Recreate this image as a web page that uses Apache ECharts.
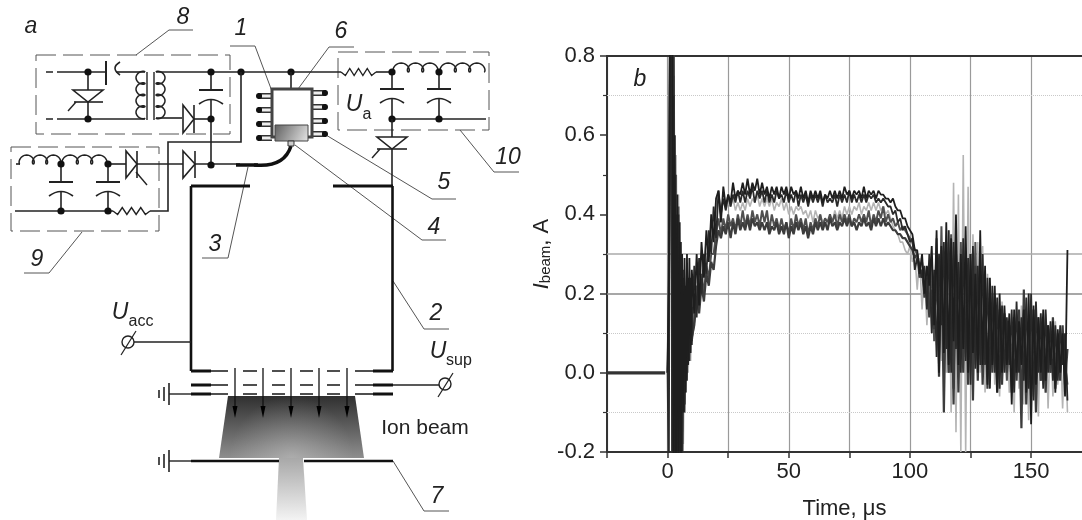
<!DOCTYPE html>
<html><head><meta charset="utf-8">
<style>html,body{margin:0;padding:0;background:#fff}#c{width:1082px;height:520px;filter:blur(.4px)}</style>
<script src="https://cdn.jsdelivr.net/npm/echarts@6/dist/echarts.min.js"></script>
</head><body><div id="c"></div>
<script>
const time=[0,.5,1,1.5,2,2.5,3,3.5,4,4.5,5,5.5,6,6.5,7,7.5,8,8.5,9,9.5,10,
11,12,13,14,15,16,17,18,19,20,
21,22,23,24,25,26,27,28,29,30,31,32,33,34,35,36,37,38,39,40,
41,42,43,44,45,46,47,48,49,50,51,52,53,54,55,56,57,58,59,60,
61,62,63,64,65,66,67,68,69,70,71,72,73,74,75,76,77,78,79,80,
81,82,83,84,85,86,87,88,89,90,
91,92,93,94,95,96,97,98,99,100,101,102,103,104,105,106,107,108,109,110,
111,112,113,114,115,116,117,118,119,120,121,122,123,124,125,126,127,128,129,130,
131,132,133,134,135,136,137,138,139,140,141,142,143,144,145,146,147,148,149,150,
151,152,153,154,155,156,157,158,159,160,161,162,163,164,165];
const shotA=[0,.24,.9,1.1,.9,-.3,.6,-.3,.45,-.25,.38,-.22,.3,-.1,.29,-.05,.3,.02,.29,.05,.26,
.15,.3,.17,.33,.24,.36,.28,.4,.33,.44,
.46,.38,.47,.42,.45,.43,.48,.44,.46,.45,.48,.45,.49,.45,.48,.46,.49,.45,.48,.45,
.47,.44,.47,.45,.47,.44,.47,.45,.47,.44,.47,.45,.46,.44,.47,.44,.46,.43,.46,.44,
.46,.44,.46,.43,.45,.44,.46,.44,.46,.44,.46,.44,.47,.45,.46,.44,.46,.45,.46,.44,
.47,.44,.46,.45,.46,.44,.46,.45,.45,.44,
.44,.43,.44,.42,.41,.41,.39,.39,.37,.36,.35,.31,.31,.25,.3,.2,.27,.22,.32,.12,
.36,0,.32,.05,.38,.02,.34,.08,.4,.02,.3,.06,.37,0,.3,.05,.25,0,.36,.02,
.27,-.03,.24,.02,.22,-.05,.2,0,.17,.02,.15,-.08,.16,0,.13,.02,.16,-.05,.2,-.13,
.17,-.03,.14,0,.16,-.02,.12,.02,.13,-.05,.11,0,.1,-.06,.31];
const shotB=[0,-.3,.85,.9,-.3,.7,-.3,.4,-.28,.4,-.3,.33,-.26,.24,-.1,.22,-.02,.24,.03,.24,.07,
.27,.14,.29,.2,.3,.25,.36,.3,.42,.34,
.46,.4,.44,.41,.45,.42,.45,.43,.46,.43,.46,.43,.46,.44,.47,.43,.46,.44,.46,.43,
.46,.43,.45,.43,.46,.44,.45,.43,.46,.43,.45,.43,.46,.42,.45,.43,.45,.42,.45,.43,
.45,.43,.45,.42,.45,.43,.44,.43,.45,.42,.45,.43,.45,.43,.46,.43,.45,.43,.45,.43,
.45,.43,.45,.44,.45,.43,.44,.43,.44,.43,
.42,.42,.4,.41,.38,.39,.36,.37,.35,.33,.34,.26,.29,.27,.24,.27,.16,.3,.1,.26,
.04,.3,.12,.33,.06,.36,0,.33,.06,.28,0,.34,.03,.29,-.03,.32,.01,.27,.02,.3,
.02,.24,-.04,.22,0,.19,-.04,.17,0,.14,.02,.16,-.05,.18,0,.14,-.02,.19,-.04,.2,
-.07,.18,0,.15,-.04,.16,0,.13,-.02,.12,-.02,.12,.02,.1,-.07];
const shotC=[0,.1,.8,1,-.2,.75,-.25,.5,-.2,.42,-.2,.3,-.15,.26,-.05,.2,0,.22,.05,.2,.08,
.13,.22,.17,.25,.2,.27,.24,.3,.3,.35,
.39,.35,.39,.36,.4,.37,.39,.36,.4,.37,.41,.37,.4,.37,.41,.38,.4,.37,.41,.38,
.41,.36,.4,.37,.39,.36,.39,.36,.38,.35,.39,.36,.4,.37,.39,.36,.39,.35,.38,.36,
.39,.37,.4,.37,.39,.38,.4,.38,.4,.37,.4,.38,.4,.38,.4,.37,.39,.38,.4,.38,
.4,.38,.41,.37,.4,.38,.41,.39,.42,.38,
.4,.38,.39,.37,.38,.36,.37,.36,.35,.34,.33,.31,.3,.27,.28,.2,.26,.15,.28,.08,
.34,.05,.37,.04,.33,0,.35,-.04,.3,.03,.33,.04,.28,.02,.3,.06,.33,.03,.25,.05,
.2,0,.17,.04,.2,.02,.16,.04,.13,-.02,.12,.03,.14,0,.1,.02,.17,-.03,.12,-.02,
.14,.02,.1,-.02,.12,.03,.09,0,.11,.01,.1,0,.09,.02,-.03];
const shotD=[0,.1,.7,.78,.2,.75,.1,.55,-.1,.45,-.1,-.2,.2,-.18,.1,-.05,.15,0,.18,.03,.2,
.15,.25,.2,.3,.26,.34,.3,.38,.35,.42,
.44,.4,.44,.41,.43,.42,.44,.41,.43,.41,.43,.41,.44,.42,.44,.43,.45,.42,.44,.42,
.44,.42,.44,.41,.43,.42,.44,.41,.43,.4,.42,.4,.42,.41,.42,.4,.41,.39,.41,.38,
.41,.39,.4,.38,.39,.37,.39,.38,.41,.39,.41,.39,.42,.4,.42,.4,.42,.41,.43,.4,
.42,.41,.43,.41,.43,.41,.43,.41,.42,.4,
.41,.39,.37,.36,.35,.33,.33,.31,.3,.32,.28,.3,.21,.29,.16,.26,.12,.25,.1,.2,
.07,.28,.03,.3,0,.36,-.1,.48,-.15,.45,-.2,.55,-.2,.47,0,.35,.02,.33,0,.32,
-.05,.25,0,.2,-.03,.15,-.06,.18,.02,.13,-.05,.14,-.1,.16,-.04,.17,-.08,.12,-.12,.14,
-.04,.14,-.11,.14,-.03,.15,-.09,.11,-.06,.13,-.03,.1,-.09,.1,-.1];
const shotE=[0,.2,.9,.85,-.2,.9,-.2,.35,-.3,.3,-.25,.25,-.28,.2,-.08,.17,.02,.2,.06,.17,.09,
.12,.19,.15,.22,.18,.25,.22,.28,.26,.32,
.36,.34,.37,.35,.38,.34,.38,.35,.39,.36,.38,.36,.39,.36,.39,.37,.38,.36,.38,.36,
.38,.35,.37,.36,.38,.35,.37,.35,.38,.34,.37,.35,.38,.36,.38,.35,.37,.34,.37,.35,
.38,.36,.38,.36,.38,.36,.39,.37,.38,.36,.38,.37,.39,.37,.39,.37,.38,.36,.38,.37,
.39,.37,.38,.36,.39,.37,.39,.37,.39,.37,
.38,.37,.36,.36,.35,.35,.34,.34,.33,.32,.31,.29,.3,.24,.26,.19,.24,.14,.21,.11,
.28,-.01,.31,-.1,.27,0,.29,-.08,.3,-.05,.24,0,.28,-.03,.22,-.07,.27,-.02,.22,-.03,
.17,-.04,.19,0,.14,-.05,.13,-.03,.15,0,.12,-.05,.13,-.02,.16,-.14,.21,-.08,.13,-.06,
.16,-.1,.14,-.02,.1,-.05,.12,0,.14,-.04,.08,-.02,.12,-.03,.06];
const baselineT=[-25,-1];
const baselineV=[0,0];
const xTicks=[-25,0,25,50,75,100,125,150];
const xLabels=[0,50,100,150];
const faintLevels=[.7,.1,-.1];
const strongLevels=[.3,.2];
const FF='"Liberation Sans",Arial,sans-serif';

/* ---------- schematic primitives (panel a) ---------- */
const G=[];
const WIRE='#222',THIN='#555';
function L(x1,y1,x2,y2,w,c,dash){G.push({type:'line',shape:{x1,y1,x2,y2},style:{stroke:c||WIRE,lineWidth:w||1.6,lineDash:dash||null}});}
function P(points,w,c,dash){G.push({type:'polyline',shape:{points},style:{stroke:c||WIRE,lineWidth:w||1.6,fill:null,lineDash:dash||null}});}
function dot(x,y,r){G.push({type:'circle',shape:{cx:x,cy:y,r:r||3.6},style:{fill:'#111'}});}
function T(text,x,y,size,italic,color){G.push({type:'text',x,y,style:{text,font:(italic?'italic ':'')+size+'px '+FF,fill:color||'#222',align:'center',verticalAlign:'middle'}});}
function box(x1,y1,x2,y2){P([[x1,y1],[x2,y1],[x2,y2],[x1,y2],[x1,y1]],1,THIN,[20,7]);}
function leader(pts){P(pts,1,THIN);}
function coil(x0,y0,x1,y1,n,h,side){
  const len=Math.hypot(x1-x0,y1-y0),ux=(x1-x0)/len,uy=(y1-y0)/len,nx=-uy*side,ny=ux*side,pts=[];
  const steps=n*24;
  for(let i=0;i<=steps;i++){const t=i/steps*n*2*Math.PI;
    const a=len*i/steps-(len/n)*.27*Math.sin(t),b=h*(1-Math.cos(t))/2;
    pts.push([x0+ux*a+nx*b,y0+uy*a+ny*b]);}
  P(pts,1.5);
}
function resistor(x0,x1,y,n){const pts=[[x0,y]],s=(x1-x0)/(n*2);
  for(let i=1;i<n*2;i++)pts.push([x0+s*i,y+(i%2?3.5:-3.5)]);pts.push([x1,y]);P(pts,1.4);}
function capV(x,y1,y2,yTop,yEnd,hw){
  L(x,y1,x,yTop);L(x-hw,yTop,x+hw,yTop,2);
  G.push({type:'bezierCurve',shape:{x1:x-hw,y1:yEnd+4,x2:x+hw,y2:yEnd+4,cpx1:x,cpy1:yEnd-5},style:{stroke:WIRE,lineWidth:1.6,fill:null}});
  L(x,yEnd,x,y2);
}
function tri(pts){G.push({type:'polygon',shape:{points:pts},style:{fill:'#fff',stroke:WIRE,lineWidth:1.6}});}
function ground(xEnd,y,xStart){L(xStart,y,xEnd,y,1.4);L(xStart,y-11,xStart,y+11,1.6);L(xStart-5,y-7,xStart-5,y+7,1.6);L(xStart-10,y-4,xStart-10,y+4,1.6);}
function terminal(cx,cy,x2,y2,x3,y3){G.push({type:'circle',shape:{cx,cy,r:6},style:{fill:'#fff',stroke:WIRE,lineWidth:1.4}});L(x2,y2,x3,y3,1.2);}

/* labels */
T('a',31,27,23,true);T('8',183,18,23,true);T('1',241,29,23,true);T('6',341,32,23,true);
T('10',508,158,23,true);T('5',444,183,23,true);T('4',434,228,23,true);T('3',215,245,23,true);
T('9',37,260,23,true);T('2',436,314,23,true);T('7',437,497,23,true);
T('U',354,105,23,true);T('a',367,115,16,false);
T('U',120,313,23,true);T('acc',141,322,16,false);
T('U',438,352,23,true);T('sup',459,361,16,false);
T('Ion beam',425,428,21,false);

/* leaders */
leader([[136,55],[169,30],[193,30]]);leader([[230,46],[255,46],[285,126]]);
leader([[298,89],[329,47],[354,47]]);leader([[460,130],[494,172],[519,172]]);
leader([[326,135],[432,199],[456,199]]);leader([[295,145],[422,240],[446,240]]);
leader([[248,167],[228,258],[202,258]]);leader([[82,232],[49,273],[24,273]]);
leader([[393,281],[424,329],[449,329]]);leader([[393,461],[424,511],[449,511]]);

box(36,55,230,134);box(11,147,159,231);box(338,52,489,130);

/* block 8 */
L(46,72,60,72,1.6,WIRE,[7,4]);L(60,72,106,72);L(106,61,106,85,2);
G.push({type:'bezierCurve',shape:{x1:120,y1:62,x2:120,y2:75,cpx1:110,cpy1:68},style:{stroke:WIRE,lineWidth:1.6,fill:null}});
L(116,72,145,72);coil(145,72,145,118,4,9,1);L(147,72,147,120,1.4);L(154,72,154,120,1.4);coil(156,72,156,118,4,9,-1);
L(46,119,60,119,1.6,WIRE,[7,4]);L(60,119,145,119);L(88,72,88,119);
tri([[73,90],[103,90],[88,102]]);L(74,102,103,102,1.6);L(76,102,68,111,1.4);
L(156,72,341,72);L(156,118,182,118);tri([[183,105],[183,133],[194,119]]);L(194,105,194,133,1.6);L(194,119,211,119);
capV(211,72,119,90,100,12);L(211,119,211,165);
dot(88,72);dot(88,119);dot(211,72);dot(211,119);dot(241,72);dot(291,72);
P([[241,72],[241,142],[168,142],[168,211],[150,211]]);resistor(113,150,211,4);L(15,211,113,211);

/* block 9 */
L(16,164,20,164);coil(20,164,60,164,3,9,-1);coil(63,164,106,164,3,9,-1);
capV(61,164,211,182,192,12);capV(108,164,211,182,192,12);
L(108,164,126,164);tri([[126,151],[126,178],[137,164]]);L(137,151,137,178,1.6);L(136,172,147,185,1.4);
L(137,164,183,164);tri([[183,151],[183,178],[195,164]]);L(195,151,195,178,1.6);L(195,164,240,164);
dot(61,164);dot(108,164);dot(61,211);dot(108,211);dot(211,165);

/* block 10 */
resistor(341,376,72,4);L(376,72,392,72);coil(394,72,437,72,3,9,-1);coil(441,72,484,72,3,9,-1);
capV(392,72,119,89,99,12);capV(439,72,119,89,99,12);L(392,119,486,119);
dot(392,72);dot(439,72);dot(392,119);dot(439,119);
L(392,119,392,186);tri([[377,137],[407,137],[392,149]]);L(377,149,407,149,1.6);L(380,149,372,158,1.4);

/* cathode assembly */
L(291,72,291,89);
[[96,93],[110,107],[124,121],[138,134]].forEach(([l,r])=>{
  L(258,l,272,l,6,'#333');L(262,l,272,l,3,'#eee');dot(259,l,3);
  L(312,r,326,r,6,'#333');L(312,r,322,r,3,'#eee');dot(325,r,3);
});
G.push({type:'rect',shape:{x:272,y:89,width:40,height:48},style:{fill:'#fff',stroke:'#444',lineWidth:3}});
G.push({type:'rect',shape:{x:275,y:125,width:33,height:16},style:{stroke:'#444',lineWidth:1,
  fill:new echarts.graphic.LinearGradient(0,0,1,1,[{offset:0,color:'#5f5f5f'},{offset:1,color:'#e6e6e6'}])}});
L(236,165,258,165,3.5,'#111');
G.push({type:'bezierCurve',shape:{x1:254,y1:165,x2:291,y2:146,cpx1:284,cpy1:168},style:{stroke:'#111',lineWidth:3.5,fill:null}});
G.push({type:'rect',shape:{x:288,y:141,width:6,height:5},style:{fill:'#ccc',stroke:'#333',lineWidth:1}});

/* chamber */
L(191,186,250,186,3,'#111');L(333,186,393,186,3,'#111');
P([[191,186],[191,371]],2.6,'#111');P([[392.5,186],[392.5,371]],2.6,'#111');
L(134,342,191,342,1.6);terminal(128,342,121,355,136,331);
L(393,385,439,385,1.6);terminal(445,384,438,397,453,373);

/* beam */
G.push({type:'polygon',shape:{points:[[228,396],[355,396],[364,458],[219,458]]},
  style:{fill:new echarts.graphic.LinearGradient(0,0,0,1,[{offset:0,color:'#303030'},{offset:.5,color:'#5e5e5e'},{offset:1,color:'#8e8e8e'}])}});
G.push({type:'polygon',shape:{points:[[228,396],[355,396],[364,458],[219,458]]},
  style:{fill:new echarts.graphic.RadialGradient(.5,1,1,[{offset:0,color:'rgba(255,255,255,.28)'},{offset:1,color:'rgba(255,255,255,0)'}])}});
G.push({type:'polygon',shape:{points:[[279,458],[303,458],[307,520],[276,520]]},
  style:{fill:new echarts.graphic.LinearGradient(0,0,0,1,[{offset:0,color:'#a8a8a8'},{offset:1,color:'#f3f3f3'}])}});

/* grids */
[371,385,394].forEach(y=>{
  L(191,y,211,y,3,'#111');L(373,y,393,y,3,'#111');L(211,y,228,y,1.6);L(355,y,373,y,1.6);
  [[243,257],[272,285],[300,313],[327,340]].forEach(([a,b])=>L(a,y,b,y,1.6));
});
ground(191,394,169);ground(191,461,169);
L(191,461,279,461,2.6,'#111');L(304,461,393,461,2.6,'#111');

/* arrows */
[235,263,291,319,347].forEach(x=>{L(x,368,x,410,1.3,'#111');
  G.push({type:'polygon',shape:{points:[[x-2.5,406],[x+2.5,406],[x,418]]},style:{fill:'#000'}});});

T('b',640,80,23,true);

/* ---------- chart (panel b) ---------- */
const shot=(s,color,w,z)=>({type:'line',data:time.map((t,i)=>[t,s[i]]),showSymbol:false,silent:true,
  lineStyle:{color,width:w},z,animation:false});
const hLine=(y,color,type,w)=>({yAxis:y,lineStyle:{color,type,width:w}});
const chart=echarts.init(document.getElementById('c'),null,{renderer:'canvas'});
chart.setOption({
  animation:false,
  backgroundColor:'#fff',
  grid:{left:607,top:56,right:0,bottom:68,outerBoundsMode:'none',containLabel:false},
  xAxis:[{type:'value',min:-25,max:171,interval:25,
    axisLine:{lineStyle:{color:'#333',width:2},onZero:false},
    axisTick:{customValues:xTicks,length:6,inside:false,lineStyle:{color:'#333',width:1.5}},
    axisLabel:{customValues:xLabels,color:'#222',fontSize:22,fontFamily:FF,margin:9},
    splitLine:{show:true,lineStyle:{color:'#9a9a9a',width:1.2}},
    name:'Time, μs',nameLocation:'middle',nameGap:46,nameTextStyle:{color:'#222',fontSize:22,fontFamily:FF}},
   {type:'value',position:'top',min:-25,max:171,interval:25,
    axisLine:{show:true,onZero:false,lineStyle:{color:'#333',width:2}},axisTick:{show:false},axisLabel:{show:false},splitLine:{show:false}}],
  yAxis:{type:'value',min:-.2,max:.8,interval:.2,
    axisLine:{show:true,lineStyle:{color:'#333',width:2},onZero:false},
    axisTick:{length:7,lineStyle:{color:'#333',width:1.5}},
    minorTick:{show:true,splitNumber:2,length:4,lineStyle:{color:'#333',width:1.2}},
    axisLabel:{color:'#222',fontSize:22,fontFamily:FF,margin:12,formatter:v=>v.toFixed(1)},
    splitLine:{show:false},
    name:'{i|I}{s|beam}{n|, A}',nameLocation:'middle',nameGap:38,nameRotate:90,
    nameTextStyle:{rich:{i:{fontSize:22,fontStyle:'italic',fontFamily:FF,color:'#222'},
      s:{fontSize:15,fontFamily:FF,color:'#222',verticalAlign:'bottom',padding:[6,0,0,0]},
      n:{fontSize:22,fontFamily:FF,color:'#222'}}}},
  series:[
    {type:'line',data:baselineT.map((t,i)=>[t,baselineV[i]]),showSymbol:false,silent:true,z:7,
     lineStyle:{color:'#333',width:3.2},
     markLine:{silent:true,symbol:'none',label:{show:false},animation:false,z:1,
       data:[...faintLevels.map(v=>hLine(v,'#c9c9c9','dotted',1)),
             hLine(strongLevels[0],'#aaa','solid',1.6),hLine(strongLevels[1],'#8a8a8a','solid',1.6)]}},
    shot(shotD,'#b4b4b4',1.6,2),
    shot(shotC,'#505050',2,3),
    shot(shotE,'#3c3c3c',2.2,4),
    shot(shotB,'#2a2a2a',1.8,5),
    shot(shotA,'#1e1e1e',1.8,6)
  ],
  graphic:{elements:G}
});
</script></body></html>
